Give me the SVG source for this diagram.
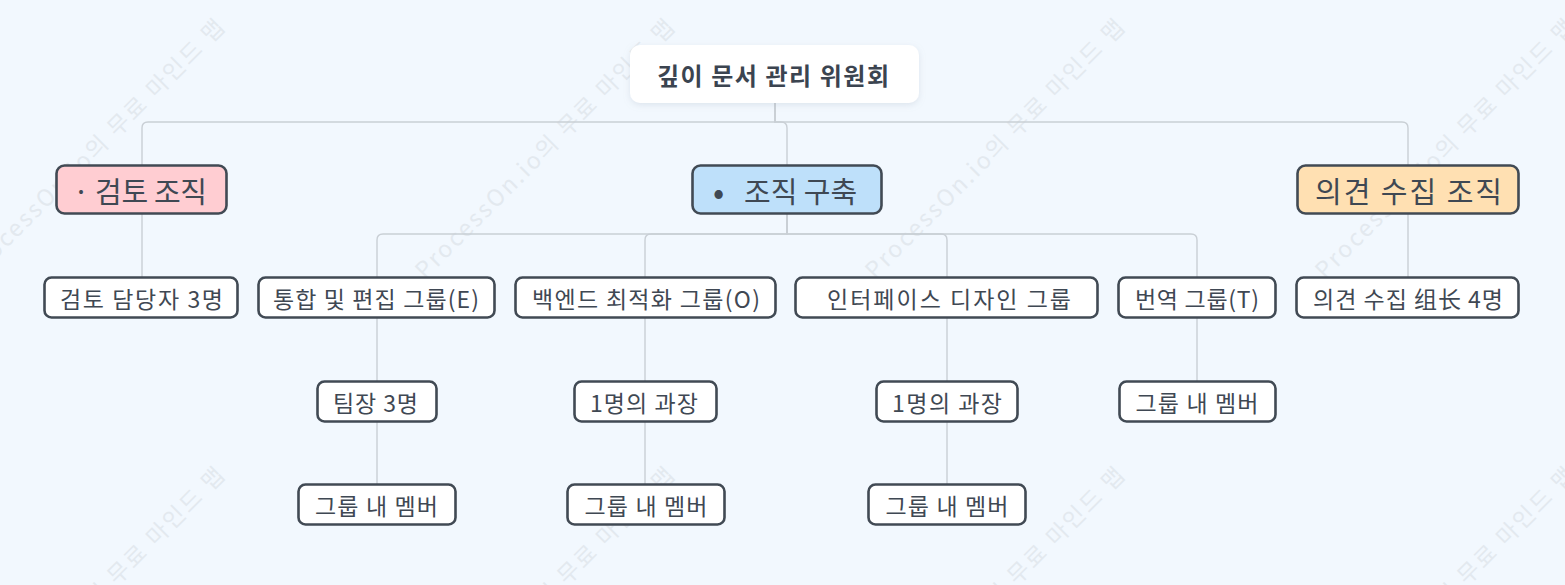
<svg xmlns="http://www.w3.org/2000/svg" width="1565" height="585" viewBox="0 0 1565 585">
  <defs>
    <style>
      .t { font-family: "Noto Sans CJK KR", "Noto Sans CJK SC", sans-serif; fill: #3f4853; text-anchor: middle; dominant-baseline: central; }
      .l1 { font-size: 29px; }
      .l2 { font-size: 23px; }
      .root { font-size: 24px; font-weight: bold; fill: #3b4450; }
      .box { stroke: #414a54; stroke-width: 2.6; }
      .w { fill: #ffffff; }
      .wm { font-family: "Noto Sans CJK KR", sans-serif; font-size: 23px; fill: #e3e9ef; }
      .conn path { fill: none; stroke: #c9cfd5; stroke-width: 1.4; }
    </style>
    <filter id="sh" x="-10%" y="-20%" width="120%" height="150%">
      <feDropShadow dx="0" dy="2" stdDeviation="3" flood-color="#9aa8b8" flood-opacity="0.25"/>
    </filter>
  </defs>
  <rect width="1565" height="585" fill="#f2f8fe"/>

  <g id="watermark">
    <text class="wm" x="-25" y="280" transform="rotate(-45 -25 280)" textLength="355">ProcessOn.io의 무료 마인드 맵</text>
    <text class="wm" x="425" y="280" transform="rotate(-45 425 280)" textLength="355">ProcessOn.io의 무료 마인드 맵</text>
    <text class="wm" x="875" y="280" transform="rotate(-45 875 280)" textLength="355">ProcessOn.io의 무료 마인드 맵</text>
    <text class="wm" x="1325" y="280" transform="rotate(-45 1325 280)" textLength="355">ProcessOn.io의 무료 마인드 맵</text>
    <text class="wm" x="-25" y="728" transform="rotate(-45 -25 728)" textLength="355">ProcessOn.io의 무료 마인드 맵</text>
    <text class="wm" x="425" y="728" transform="rotate(-45 425 728)" textLength="355">ProcessOn.io의 무료 마인드 맵</text>
    <text class="wm" x="875" y="728" transform="rotate(-45 875 728)" textLength="355">ProcessOn.io의 무료 마인드 맵</text>
    <text class="wm" x="1325" y="728" transform="rotate(-45 1325 728)" textLength="355">ProcessOn.io의 무료 마인드 맵</text>
  </g>

  <g id="connectors" class="conn">
    <path d="M775,103 V122 H148 Q142,122 142,128 V165"/>
    <path d="M775,103 V122 H781 Q787,122 787,128 V165"/>
    <path d="M775,103 V122 H1402 Q1408,122 1408,128 V165"/>
    <path d="M142,214 V277"/>
    <path d="M1408,214 V277"/>
    <path d="M787,214 V234 H383 Q377,234 377,240 V277"/>
    <path d="M787,214 V234 H651 Q645,234 645,240 V277"/>
    <path d="M787,214 V234 H941 Q947,234 947,240 V277"/>
    <path d="M787,214 V234 H1191 Q1197,234 1197,240 V277"/>
    <path d="M377,318 V381 M377,422 V484"/>
    <path d="M645,318 V381 M645,422 V484"/>
    <path d="M947,318 V381 M947,422 V484"/>
    <path d="M1197,318 V381"/>
  </g>

  <g id="root">
    <rect x="630" y="45" width="289" height="58" rx="10" fill="#ffffff" filter="url(#sh)"/>
    <text class="t root" x="773" y="74" textLength="232">깊이 문서 관리 위원회</text>
  </g>

  <g id="review-org">
    <rect class="box" x="56.5" y="165.5" width="170" height="48" rx="8" fill="#ffcdd2"/>
    <text class="t l1" x="140" y="190" textLength="134">· 검토 조직</text>
  </g>
  <g id="org-build">
    <rect class="box" x="692.5" y="165.5" width="189" height="48" rx="8" fill="#bee0fa"/>
    <text class="t l1" y="190" style="text-anchor:start"><tspan x="713" style="font-size:33px">•</tspan><tspan x="744">조직 구축</tspan></text>
  </g>
  <g id="opinion-org">
    <rect class="box" x="1297.5" y="165.5" width="221" height="48" rx="8" fill="#ffe0b2"/>
    <text class="t l1" x="1408.5" y="190" textLength="187">의견 수집 조직</text>
  </g>

  <g id="reviewers">
    <rect class="box w" x="44.5" y="277.5" width="193" height="40" rx="7"/>
    <text class="t l2" x="141.5" y="298" textLength="163">검토 담당자 3명</text>
  </g>
  <g id="group-e">
    <rect class="box w" x="258.5" y="277.5" width="236" height="40" rx="7"/>
    <text class="t l2" x="376" y="298" textLength="206">통합 및 편집 그룹(E)</text>
  </g>
  <g id="group-o">
    <rect class="box w" x="515.5" y="277.5" width="260" height="40" rx="7"/>
    <text class="t l2" x="646" y="298" textLength="228">백엔드 최적화 그룹(O)</text>
  </g>
  <g id="group-ui">
    <rect class="box w" x="795.5" y="277.5" width="302" height="40" rx="7"/>
    <text class="t l2" x="949" y="298" textLength="244">인터페이스 디자인 그룹</text>
  </g>
  <g id="group-t">
    <rect class="box w" x="1118.5" y="277.5" width="157" height="40" rx="7"/>
    <text class="t l2" x="1197" y="298" textLength="124">번역 그룹(T)</text>
  </g>
  <g id="opinion-leads">
    <rect class="box w" x="1296.5" y="277.5" width="222" height="40" rx="7"/>
    <text class="t l2" x="1408" y="298" textLength="190">의견 수집 组长 4명</text>
  </g>

  <g id="e-leads">
    <rect class="box w" x="317.5" y="381.5" width="119" height="40" rx="7"/>
    <text class="t l2" x="375.5" y="402" textLength="85">팀장 3명</text>
  </g>
  <g id="o-manager">
    <rect class="box w" x="574.5" y="381.5" width="142" height="40" rx="7"/>
    <text class="t l2" x="644" y="402" textLength="108">1명의 과장</text>
  </g>
  <g id="ui-manager">
    <rect class="box w" x="876.5" y="381.5" width="141" height="40" rx="7"/>
    <text class="t l2" x="947" y="402" textLength="110">1명의 과장</text>
  </g>
  <g id="t-members">
    <rect class="box w" x="1119.5" y="381.5" width="156" height="40" rx="7"/>
    <text class="t l2" x="1197" y="402" textLength="123">그룹 내 멤버</text>
  </g>

  <g id="e-members">
    <rect class="box w" x="298.5" y="484.5" width="157" height="40" rx="7"/>
    <text class="t l2" x="376.5" y="505" textLength="123">그룹 내 멤버</text>
  </g>
  <g id="o-members">
    <rect class="box w" x="567.5" y="484.5" width="157" height="40" rx="7"/>
    <text class="t l2" x="646" y="505" textLength="123">그룹 내 멤버</text>
  </g>
  <g id="ui-members">
    <rect class="box w" x="868.5" y="484.5" width="157" height="40" rx="7"/>
    <text class="t l2" x="947" y="505" textLength="123">그룹 내 멤버</text>
  </g>
</svg>
